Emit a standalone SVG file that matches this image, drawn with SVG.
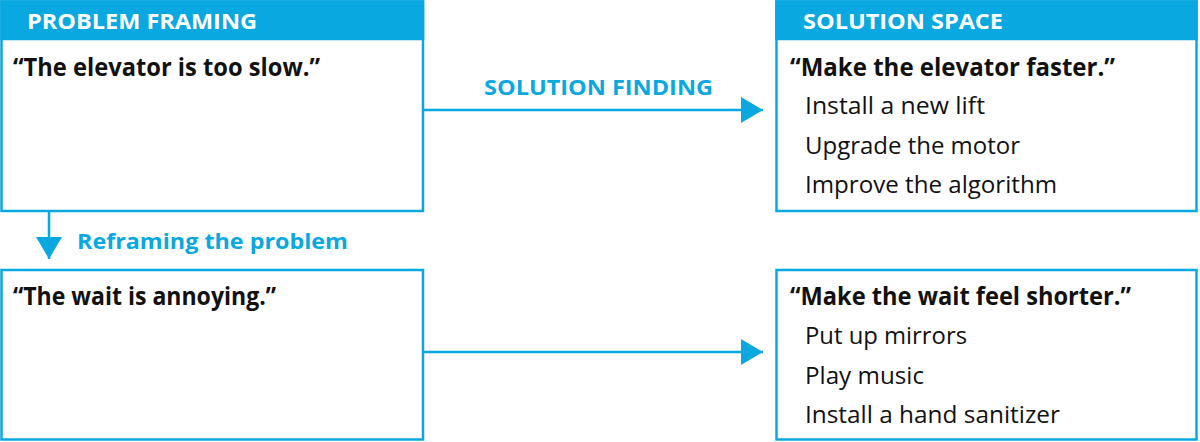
<svg xmlns="http://www.w3.org/2000/svg" width="1200" height="442" viewBox="0 0 1200 442">
<defs>
<style>
.box{fill:#fff;stroke:#0aa8e0;stroke-width:2.5}
.band{fill:#0aa8e0}
text{font-family:"Open Sans","Noto Sans","Liberation Sans",sans-serif}
.hdr{font-weight:700;font-size:21px;fill:#fff}
.quote{font-weight:700;font-size:25px;fill:#111}
.item{font-weight:400;font-size:23px;fill:#111}
.lbl{font-weight:700;font-size:22px;fill:#0aa8e0}
.conn{stroke:#0aa8e0;stroke-width:2.5;fill:none}
</style>
<marker id="ah" markerUnits="userSpaceOnUse" markerWidth="24" markerHeight="26" refX="22" refY="13" orient="auto">
<path d="M0,0 L22,13 L0,26 Z" fill="#0aa8e0"/>
</marker>
</defs>
<rect width="1200" height="442" fill="#fff"/>
<g id="problem-framing">
<rect class="box" x="1.5" y="1.5" width="421.5" height="209.5"/>
<rect class="band" x="0.25" y="0.25" width="424" height="40"/>
<text class="hdr" x="27" y="29" textLength="230" lengthAdjust="spacingAndGlyphs">PROBLEM FRAMING</text>
<text class="quote" x="13" y="76" textLength="307" lengthAdjust="spacingAndGlyphs">“The elevator is too slow.”</text>
</g>
<g id="solution-space">
<rect class="box" x="776.5" y="1.5" width="420" height="209.5"/>
<rect class="band" x="775.25" y="0.25" width="422.5" height="40"/>
<text class="hdr" x="803" y="29" textLength="200" lengthAdjust="spacingAndGlyphs">SOLUTION SPACE</text>
<text class="quote" x="790" y="76" textLength="325" lengthAdjust="spacingAndGlyphs">“Make the elevator faster.”</text>
<text class="item" x="805" y="114" textLength="180" lengthAdjust="spacingAndGlyphs">Install a new lift</text>
<text class="item" x="805" y="154" textLength="215" lengthAdjust="spacingAndGlyphs">Upgrade the motor</text>
<text class="item" x="805" y="193" textLength="252" lengthAdjust="spacingAndGlyphs">Improve the algorithm</text>
</g>
<g id="reframed-problem">
<rect class="box" x="1.5" y="270" width="421.5" height="169.5"/>
<text class="quote" x="13" y="305" textLength="263" lengthAdjust="spacingAndGlyphs">“The wait is annoying.”</text>
</g>
<g id="reframed-solutions">
<rect class="box" x="776.5" y="270" width="420" height="169.5"/>
<text class="quote" x="790" y="305" textLength="341" lengthAdjust="spacingAndGlyphs">“Make the wait feel shorter.”</text>
<text class="item" x="805" y="344" textLength="162" lengthAdjust="spacingAndGlyphs">Put up mirrors</text>
<text class="item" x="805" y="384" textLength="119" lengthAdjust="spacingAndGlyphs">Play music</text>
<text class="item" x="805" y="423" textLength="255" lengthAdjust="spacingAndGlyphs">Install a hand sanitizer</text>
</g>
<g id="connectors">
<line class="conn" x1="423" y1="110" x2="763" y2="110" marker-end="url(#ah)"/>
<text class="lbl" x="484" y="95" textLength="229" lengthAdjust="spacingAndGlyphs">SOLUTION FINDING</text>
<line class="conn" x1="423" y1="352" x2="763" y2="352" marker-end="url(#ah)"/>
<line class="conn" x1="49" y1="211" x2="49" y2="259" marker-end="url(#ah)"/>
<text class="lbl" x="77" y="249" textLength="271" lengthAdjust="spacingAndGlyphs">Reframing the problem</text>
</g>
</svg>
